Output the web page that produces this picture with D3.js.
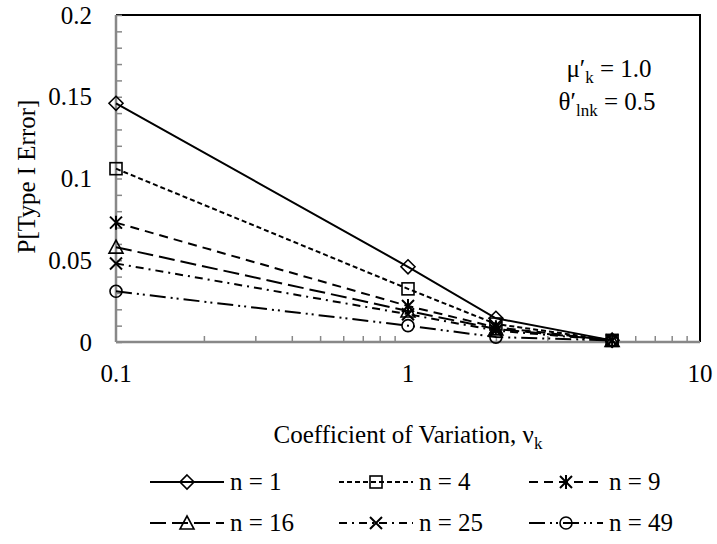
<!DOCTYPE html>
<html>
<head>
<meta charset="utf-8">
<script src="https://cdn.jsdelivr.net/npm/d3@7"></script>
<style>
  body { margin: 0; background: #fff; }
</style>
</head>
<body>
<div id="chart"></div>
<script>
// data
const cvValues = [0.1, 1, 2, 5];
const seriesNames = ['n = 1', 'n = 4', 'n = 9', 'n = 16', 'n = 25', 'n = 49'];
const n1 = [0.146, 0.046, 0.0145, 0.001];
const n4 = [0.106, 0.0325, 0.011, 0.001];
const n9 = [0.073, 0.022, 0.009, 0.001];
const n16 = [0.058, 0.019, 0.008, 0.001];
const n25 = [0.048, 0.017, 0.007, 0.001];
const n49 = [0.031, 0.010, 0.003, 0.001];
const yTicks = [0, 0.05, 0.1, 0.15, 0.2];
const yTickLabels = ['0', '0.05', '0.1', '0.15', '0.2'];
const xTicks = [0.1, 1, 10];

const seriesValues = [n1, n4, n9, n16, n25, n49];
const markers = ['diamond', 'square', 'asterisk', 'triangle', 'cross', 'circle'];
const dashes = ['none', '5,3', '9,6', '16,6', '8,5,2,5', '16,5,2,4,2,5'];

const FONT = 'Liberation Serif';
const width = 717, height = 544;
const margin = { top: 15, right: 17, bottom: 202, left: 116 };
const innerW = width - margin.left - margin.right;
const innerH = height - margin.top - margin.bottom;

const svg = d3.select('#chart').append('svg')
  .attr('width', width)
  .attr('height', height)
  .attr('font-family', FONT);

const x = d3.scaleLog().domain([0.1, 10]).range([margin.left, margin.left + innerW]);
const y = d3.scaleLinear().domain([0, 0.2]).range([margin.top + innerH, margin.top]);

// top / right border
svg.append('path')
  .attr('d', `M${x(0.1)},${y(0.2)}H${x(10)}V${y(0)}`)
  .attr('fill', 'none')
  .attr('stroke', '#000')
  .attr('stroke-width', 2);

// y axis: minor ticks every 0.01, pointing inward
const yAxis = svg.append('g')
  .attr('transform', `translate(${margin.left},0)`)
  .call(d3.axisRight(y).tickValues(d3.range(0, 0.2001, 0.01)).tickSize(6).tickFormat(''));
yAxis.select('.domain').remove();
yAxis.selectAll('line').attr('stroke', '#888').attr('stroke-width', 1.5);
svg.append('line')
  .attr('x1', x(0.1)).attr('x2', x(0.1))
  .attr('y1', y(0)).attr('y2', y(0.2))
  .attr('stroke', '#888').attr('stroke-width', 2.5);

svg.append('g')
  .selectAll('text')
  .data(yTicks)
  .join('text')
  .attr('x', margin.left - 24)
  .attr('y', d => y(d))
  .attr('dy', '0.34em')
  .attr('text-anchor', 'end')
  .attr('font-family', FONT)
  .attr('font-size', 25)
  .text((d, i) => yTickLabels[i]);

// x axis: minor ticks 2..9 per decade, pointing inward
const minor = [];
[0.1, 1].forEach(dec => { for (let k = 2; k <= 9; k++) minor.push(dec * k); });
const xAxis = svg.append('g')
  .attr('transform', `translate(0,${y(0)})`)
  .call(d3.axisTop(x).tickValues(minor).tickSize(6).tickFormat(''));
xAxis.select('.domain').remove();
xAxis.selectAll('line').attr('stroke', '#888').attr('stroke-width', 1.5);
svg.append('line')
  .attr('x1', x(0.1)).attr('x2', x(10))
  .attr('y1', y(0)).attr('y2', y(0))
  .attr('stroke', '#888').attr('stroke-width', 2.5);

svg.append('g')
  .selectAll('text')
  .data(xTicks)
  .join('text')
  .attr('x', d => x(d))
  .attr('y', y(0) + 40)
  .attr('text-anchor', 'middle')
  .attr('font-family', FONT)
  .attr('font-size', 25)
  .text(d => String(d));

// axis titles
const xTitle = svg.append('text')
  .attr('x', margin.left + innerW / 2)
  .attr('y', 443)
  .attr('text-anchor', 'middle')
  .attr('font-family', FONT)
  .attr('font-size', 25)
  .text('Coefficient of Variation, ν');
xTitle.append('tspan').attr('font-size', 17).attr('dy', 6).text('k');

svg.append('text')
  .attr('transform', 'rotate(-90)')
  .attr('x', -(margin.top + innerH / 2) + 2)
  .attr('y', 35)
  .attr('text-anchor', 'middle')
  .attr('font-family', FONT)
  .attr('font-size', 25)
  .text('P[Type I Error]');

// annotation
const ann1 = svg.append('text').attr('x', 609).attr('y', 77).attr('text-anchor', 'middle')
  .attr('font-family', FONT).attr('font-size', 25);
ann1.append('tspan').text('μ′');
ann1.append('tspan').attr('font-size', 17).attr('dy', 6).text('k');
ann1.append('tspan').attr('dy', -6).text(' = 1.0');
const ann2 = svg.append('text').attr('x', 607).attr('y', 110).attr('text-anchor', 'middle')
  .attr('font-family', FONT).attr('font-size', 25);
ann2.append('tspan').text('θ′');
ann2.append('tspan').attr('font-size', 17).attr('dy', 6).text('lnk');
ann2.append('tspan').attr('dy', -6).text(' = 0.5');

// marker drawing (hollow, like the original)
function drawMarker(sel, type) {
  const s = 6;
  const st = { fill: 'none', stroke: '#000', 'stroke-width': 1.6 };
  let m;
  if (type === 'diamond') {
    m = sel.append('path').attr('d', `M0,${-s - 1}L${s + 1},0L0,${s + 1}L${-s - 1},0Z`);
  } else if (type === 'square') {
    m = sel.append('rect').attr('x', -s).attr('y', -s).attr('width', 2 * s).attr('height', 2 * s);
  } else if (type === 'triangle') {
    m = sel.append('path').attr('d', `M0,${-s - 1}L${s + 1},${s}L${-s - 1},${s}Z`);
  } else if (type === 'circle') {
    m = sel.append('circle').attr('r', s);
  } else if (type === 'cross') {
    m = sel.append('path').attr('d', `M${-s},${-s}L${s},${s}M${-s},${s}L${s},${-s}`);
    st['stroke-width'] = 2;
  } else if (type === 'asterisk') {
    m = sel.append('path').attr('d', `M${-s},${-s}L${s},${s}M${-s},${s}L${s},${-s}M0,${-s - 1}V${s + 1}`);
    st['stroke-width'] = 2;
  }
  Object.entries(st).forEach(([k, v]) => m.attr(k, v));
}

const line = d3.line().x(d => x(d[0])).y(d => y(d[1]));

seriesValues.forEach((vals, i) => {
  const pts = cvValues.map((c, j) => [c, vals[j]]);
  svg.append('path')
    .datum(pts)
    .attr('d', line)
    .attr('fill', 'none')
    .attr('stroke', '#000')
    .attr('stroke-width', 2)
    .attr('stroke-dasharray', dashes[i]);
});
seriesValues.forEach((vals, i) => {
  cvValues.forEach((c, j) => {
    const g = svg.append('g').attr('transform', `translate(${x(c)},${y(vals[j])})`);
    drawMarker(g, markers[i]);
  });
});

// legend
const legendCols = [187, 376, 566];
const legendRows = [482, 523];
seriesNames.forEach((name, i) => {
  const cx = legendCols[i % 3];
  const cy = legendRows[Math.floor(i / 3)];
  const g = svg.append('g').attr('transform', `translate(${cx},${cy})`);
  g.append('line')
    .attr('x1', -37).attr('x2', 37)
    .attr('stroke', '#000')
    .attr('stroke-width', 2)
    .attr('stroke-dasharray', dashes[i]);
  drawMarker(g, markers[i]);
  g.append('text')
    .attr('x', 43)
    .attr('y', 8)
    .attr('font-family', FONT)
    .attr('font-size', 25)
    .text(name);
});
</script>
</body>
</html>
